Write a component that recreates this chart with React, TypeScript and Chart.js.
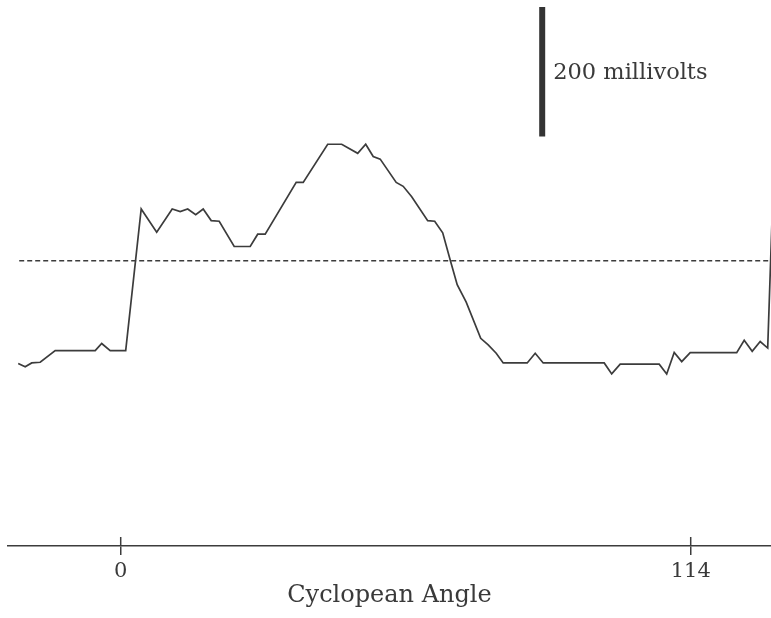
import React, { useEffect, useRef } from "react";
import { Chart, registerables } from "chart.js";

Chart.register(...registerables);

// Cyclopean angle (x) and response in millivolts (y)
const angles = [
  -20.5, -19.1, -17.8, -16.1, -13.1, -5.1, -3.8, -2.1, 1.0, 4.1,
  7.2, 10.3, 11.9, 13.4, 15.0, 16.5, 18.1, 19.7, 22.7, 25.9,
  27.4, 28.9, 35.1, 36.5, 41.4, 44.2, 47.4, 49.0, 50.5, 51.9,
  55.1, 56.5, 58.2, 61.4, 62.8, 64.4, 65.9, 67.3, 69.1, 72.0,
  73.5, 75.1, 76.5, 81.3, 82.9, 84.5, 96.7, 98.2, 99.9, 107.7,
  109.2, 110.7, 112.2, 113.9, 123.2, 124.7, 126.3, 127.9, 129.4, 130.3,
];
const millivolts = [
  -351, -356, -350, -349, -331, -331, -320, -331, -331, -112,
  -148, -112, -116, -112, -121, -112, -130, -131, -170, -170,
  -151, -151, -71, -71, -12, -12, -26, -12, -31, -35,
  -71, -77, -93, -130, -131, -149, -191, -229, -256, -312,
  -322, -335, -350, -350, -335, -350, -350, -367, -352, -352,
  -367, -334, -348, -334, -334, -315, -332, -317, -327, -120,
];

// dashed reference level
const baselineAngles = [-20.3, 130.1];
const baselineLevel = -192;

// scale bar: 0 to 200 mV
const scaleBarAngle = 84.3;
const scaleBarValues = [0, 200];
const scaleBarLabel = "200 millivolts";

const tickValues = [0, 114];
const xTitle = "Cyclopean Angle";

const X_MIN = -22.54;
const X_MAX = 130.06;
const Y_MIN = -633;
const Y_MAX = 211;

const INK = "#3c3c3c";

export default function App() {
  const ref = useRef<HTMLCanvasElement | null>(null);

  useEffect(() => {
    const canvas = ref.current;
    if (!canvas) return;

    const overlay = {
      id: "overlay",
      afterDraw(chart: any) {
        const ctx = chart.ctx;
        const xs = chart.scales.x;
        const ys = chart.scales.y;
        const bottom = chart.chartArea.bottom;
        ctx.save();
        // upper half of tick marks (crossing the axis)
        ctx.strokeStyle = INK;
        ctx.lineWidth = 1.5;
        tickValues.forEach((v) => {
          const px = xs.getPixelForValue(v);
          ctx.beginPath();
          ctx.moveTo(px, bottom - 9);
          ctx.lineTo(px, bottom);
          ctx.stroke();
        });
        // scale bar label
        ctx.fillStyle = "#3a3a3a";
        ctx.font = "22.5px 'DejaVu Serif'";
        ctx.textBaseline = "middle";
        ctx.textAlign = "left";
        const lx = xs.getPixelForValue(scaleBarAngle) + 11;
        const ly = ys.getPixelForValue((scaleBarValues[0] + scaleBarValues[1]) / 2) + 1;
        ctx.fillText(scaleBarLabel, lx, ly);
        ctx.restore();
      },
    };

    const chart = new Chart(canvas, {
      type: "line",
      data: {
        datasets: [
          {
            data: angles.map((a, i) => ({ x: a, y: millivolts[i] })),
            borderColor: INK,
            borderWidth: 1.7,
            pointRadius: 0,
            tension: 0,
          },
          {
            data: baselineAngles.map((a) => ({ x: a, y: baselineLevel })),
            borderColor: INK,
            borderWidth: 1.5,
            borderDash: [5, 3],
            pointRadius: 0,
          },
          {
            data: scaleBarValues.map((v) => ({ x: scaleBarAngle, y: v })),
            borderColor: "#333333",
            borderWidth: 6,
            borderCapStyle: "butt",
            pointRadius: 0,
          },
        ],
      },
      options: {
        animation: false,
        responsive: false,
        devicePixelRatio: 1,
        layout: { padding: { left: 8, right: 0, top: 0, bottom: 0 } },
        plugins: {
          legend: { display: false },
          tooltip: { enabled: false },
        },
        scales: {
          x: {
            type: "linear",
            min: X_MIN,
            max: X_MAX,
            position: "bottom",
            afterBuildTicks: (scale: any) => {
              scale.ticks = tickValues.map((v) => ({ value: v }));
            },
            afterFit: (scale: any) => {
              scale.height = 72;
            },
            border: { display: true, color: INK, width: 1.5 },
            grid: {
              display: true,
              drawOnChartArea: false,
              drawTicks: true,
              tickLength: 9,
              color: INK,
              lineWidth: 1.5,
            },
            ticks: {
              color: "#3a3a3a",
              padding: 6,
              maxRotation: 0,
              autoSkip: false,
              font: { family: "'DejaVu Serif'", size: 21, lineHeight: 1.0 },
              callback: (v: any) => String(v),
            },
            title: {
              display: true,
              text: xTitle,
              color: "#3a3a3a",
              padding: { top: 0, bottom: 8 },
              font: { family: "'DejaVu Serif'", size: 24, lineHeight: 1.2 },
            },
          },
          y: {
            type: "linear",
            min: Y_MIN,
            max: Y_MAX,
            display: false,
          },
        },
      },
      plugins: [overlay],
    });

    return () => chart.destroy();
  }, []);

  return (
    <div style={{ position: "fixed", left: 0, top: 0, width: 771, height: 618, background: "#fff" }}>
      <canvas ref={ref} width={771} height={618} style={{ display: "block" }} />
    </div>
  );
}
